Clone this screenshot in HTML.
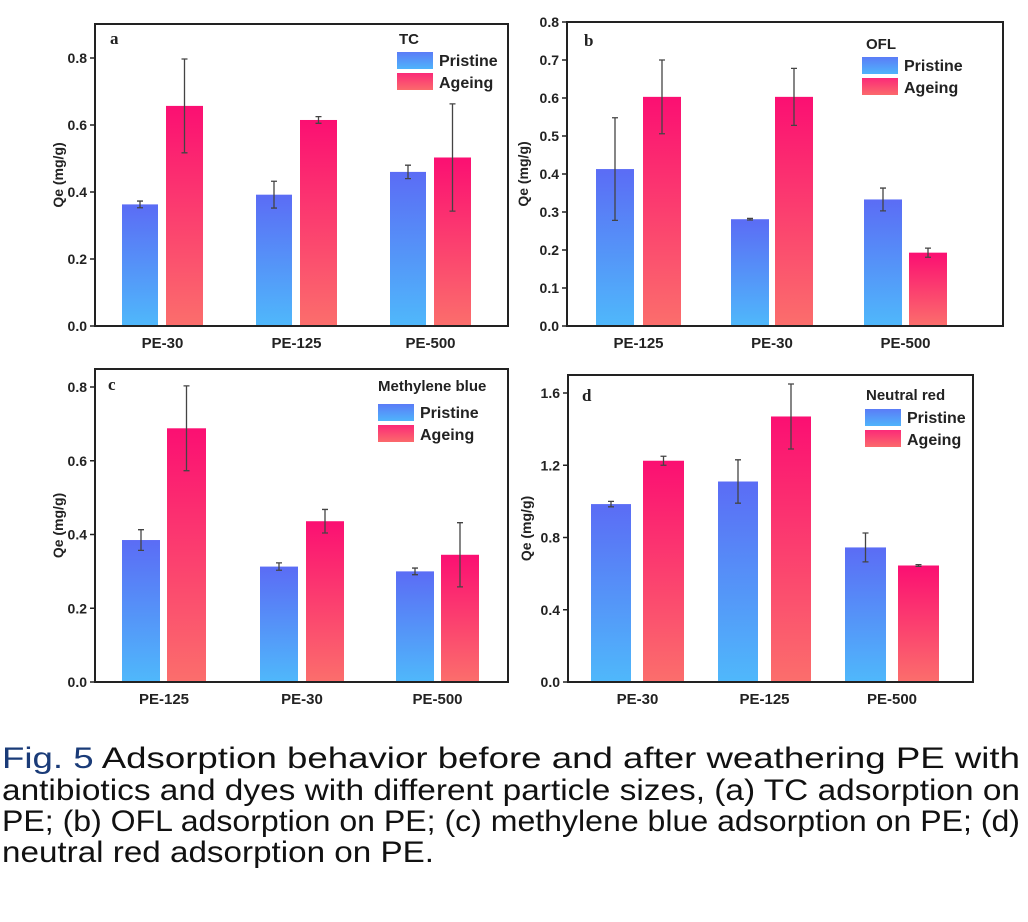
<!DOCTYPE html>
<html><head><meta charset="utf-8"><style>
html,body{margin:0;padding:0;background:#fff;width:1028px;height:922px;overflow:hidden}
svg{display:block}
</style></head><body>
<svg id="s" width="1028" height="922" xmlns="http://www.w3.org/2000/svg" font-family="Liberation Sans, sans-serif">
<defs>
<linearGradient id="gb" x1="0" y1="0" x2="0" y2="1"><stop offset="0" stop-color="#5b6cf5"/><stop offset="1" stop-color="#4fb8fb"/></linearGradient>
<linearGradient id="gr" x1="0" y1="0" x2="0" y2="1"><stop offset="0" stop-color="#fb0f72"/><stop offset="1" stop-color="#fb6e6c"/></linearGradient>
<linearGradient id="lb" x1="0" y1="0" x2="0" y2="1"><stop offset="0" stop-color="#5b7cf7"/><stop offset="1" stop-color="#4fb4fb"/></linearGradient>
<linearGradient id="lr" x1="0" y1="0" x2="0" y2="1"><stop offset="0" stop-color="#fb2a78"/><stop offset="1" stop-color="#fb6a6c"/></linearGradient>
</defs>
<g id="charts"></g>
<g font-size="30" fill="#111">
<text x="2" y="768" textLength="1018" lengthAdjust="spacingAndGlyphs"><tspan fill="#1a3b78">Fig. 5</tspan>  Adsorption behavior before and after weathering PE with</text>
<text x="2" y="800" textLength="1018" lengthAdjust="spacingAndGlyphs">antibiotics and dyes with different particle sizes, (a) TC adsorption on</text>
<text x="2" y="831" textLength="1018" lengthAdjust="spacingAndGlyphs">PE; (b) OFL adsorption on PE; (c) methylene blue adsorption on PE; (d)</text>
<text x="2" y="862" textLength="432" lengthAdjust="spacingAndGlyphs">neutral red adsorption on PE.</text>
</g>
</svg>
<script>
const P=[
 {L:95,R:508,T:24,B:326,ymax:0.8,y0:326,yTop:58,ticks:[0,0.2,0.4,0.6,0.8],dec:1,qx:58,lab:'a',labX:110,labY:44,title:'TC',tx:399,ty:44,sw:[397,52],
  cats:['PE-30','PE-125','PE-500'],bars:[[122,158,0.363,0.01,166,203,0.657,0.14],[256,292,0.392,0.04,300,337,0.615,0.01],[390,426,0.46,0.02,434,471,0.503,0.16]]},
 {L:567,R:1003,T:22,B:326,ymax:0.8,y0:326,yTop:22,ticks:[0,0.1,0.2,0.3,0.4,0.5,0.6,0.7,0.8],dec:1,qx:523,lab:'b',labX:584,labY:46,title:'OFL',tx:866,ty:49,sw:[862,57],
  cats:['PE-125','PE-30','PE-500'],bars:[[596,634,0.413,0.135,643,681,0.603,0.097],[731,769,0.281,0.002,775,813,0.603,0.075],[864,902,0.333,0.03,909,947,0.193,0.012]]},
 {L:95,R:508,T:369,B:682,ymax:0.8,y0:682,yTop:387,ticks:[0,0.2,0.4,0.6,0.8],dec:1,qx:58,lab:'c',labX:108,labY:390,title:'Methylene blue',tx:378,ty:391,sw:[378,404],
  cats:['PE-125','PE-30','PE-500'],bars:[[122,160,0.385,0.028,167,206,0.688,0.115],[260,298,0.313,0.01,306,344,0.436,0.032],[396,434,0.3,0.009,441,479,0.345,0.087]]},
 {L:568,R:973,T:375,B:682,ymax:1.6,y0:682,yTop:393,ticks:[0,0.4,0.8,1.2,1.6],dec:1,qx:526,lab:'d',labX:582,labY:401,title:'Neutral red',tx:866,ty:400,sw:[865,409],
  cats:['PE-30','PE-125','PE-500'],bars:[[591,631,0.985,0.015,643,684,1.225,0.025],[718,758,1.11,0.12,771,811,1.47,0.18],[845,886,0.745,0.08,898,939,0.645,0.005]]}
];
let h='';
for(const p of P){
 const s=(p.y0-p.yTop)/p.ymax, Y=v=>p.y0-v*s;
 for(const b of p.bars){
  for(const k of [0,4]){
   const x1=b[k],x2=b[k+1],v=b[k+2],e=b[k+3],g=k?'gr':'gb',cx=(x1+x2)/2;
   h+=`<rect x="${x1}" y="${Y(v)}" width="${x2-x1}" height="${p.y0-Y(v)}" fill="url(#${g})"/>`;
   h+=`<path d="M${cx} ${Y(v+e)}V${Y(v-e)}M${cx-3} ${Y(v+e)}H${cx+3}M${cx-3} ${Y(v-e)}H${cx+3}" stroke="#444" stroke-width="1.3" fill="none"/>`;
  }
 }
 h+=`<rect x="${p.L}" y="${p.T}" width="${p.R-p.L}" height="${p.B-p.T}" fill="none" stroke="#222" stroke-width="2"/>`;
 for(const t of p.ticks){const y=Y(t);
  h+=`<line x1="${p.L-5}" x2="${p.L}" y1="${y}" y2="${y}" stroke="#222" stroke-width="1.5"/>`;
  h+=`<text x="${p.L-8}" y="${y+5}" font-size="14" font-weight="bold" text-anchor="end" fill="#222">${t.toFixed(p.dec)}</text>`;}
 p.bars.forEach((b,i)=>{const cx=(b[0]+b[5])/2;h+=`<text x="${cx}" y="${p.B+22}" font-size="15" font-weight="bold" text-anchor="middle" fill="#222">${p.cats[i]}</text>`;});
 const my=(p.T+p.B)/2;
 h+=`<text transform="translate(${p.qx+5},${my}) rotate(-90)" font-size="14" font-weight="bold" text-anchor="middle" fill="#222">Qe (mg/g)</text>`;
 h+=`<text x="${p.labX}" y="${p.labY}" font-size="17" font-weight="bold" font-family="Liberation Serif, serif" fill="#222">${p.lab}</text>`;
 h+=`<text x="${p.tx}" y="${p.ty}" font-size="15" font-weight="bold" fill="#222">${p.title}</text>`;
 const [sx,sy]=p.sw;
 h+=`<rect x="${sx}" y="${sy}" width="36" height="17" fill="url(#lb)"/><rect x="${sx}" y="${sy+21}" width="36" height="17" fill="url(#lr)"/>`;
 h+=`<text x="${sx+42}" y="${sy+14}" font-size="16" font-weight="bold" fill="#222">Pristine</text><text x="${sx+42}" y="${sy+36}" font-size="16" font-weight="bold" fill="#222">Ageing</text>`;
}
document.getElementById('charts').innerHTML=h;
</script>
</body></html>
